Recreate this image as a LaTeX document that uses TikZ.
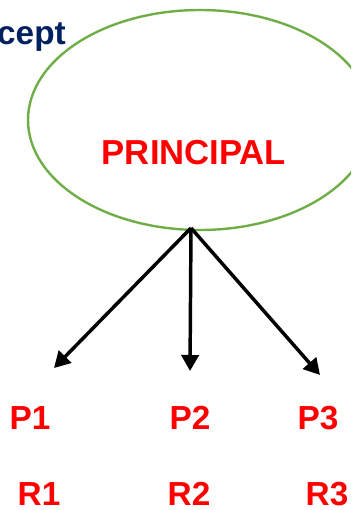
\documentclass[tikz,border=0pt]{standalone}
\usepackage{fontspec}
\setmainfont{Liberation Sans}
\usetikzlibrary{arrows.meta,shapes.geometric}
\definecolor{ringc}{RGB}{112,173,71}
\definecolor{lblc}{RGB}{255,0,0}
\definecolor{ttlc}{RGB}{0,32,96}

\begin{document}
\begin{tikzpicture}[
  x=0.75pt, y=-0.75pt,
  ring/.style={ellipse, draw=ringc, line width=1.8pt,
               minimum width=258pt, minimum height=165pt, inner sep=0pt},
  big/.style={font=\fontsize{26}{30}\selectfont\bfseries, text=lblc, inner sep=0pt},
  pr/.style={font=\fontsize{25}{29}\selectfont\bfseries, text=lblc, inner sep=0pt},
  ttl/.style={font=\fontsize{25}{29}\selectfont\bfseries, text=ttlc, inner sep=0pt},
  arr/.style={draw=black, line width=2.6pt, -{Triangle[length=12pt,width=13pt]}},
]
\useasboundingbox (0,0) rectangle (351,510);
\clip (0,0) rectangle (351,510);

% ---------------- top: the heading remnant and the principal ----------------
\node[ttl, anchor=base east] (ttl) at (66,45) {cept};

\node[ring] (ring) at (200,120) {};
\node[big] (principal) at (194,153) {PRINCIPAL};

% ---------------- bottom: the three parties ----------------
\node[pr] (p1) at (30,418) {P1};
\node[pr] (p2) at (190,418) {P2};
\node[pr] (p3) at (318,418) {P3};

\node[pr] (r1) at (39,494) {R1};
\node[pr] (r2) at (189,494) {R2};
\node[pr] (r3) at (327,494) {R3};

% arrows fanning out of the ellipse
\coordinate (hub) at (191,228);
\coordinate (t1) at (54,368);
\coordinate (t2) at (190,371);
\coordinate (t3) at (320,375);
\draw[arr] (hub)--(t1); \draw[arr] (hub)--(t2); \draw[arr] (hub)--(t3);

\end{tikzpicture}
\end{document}
